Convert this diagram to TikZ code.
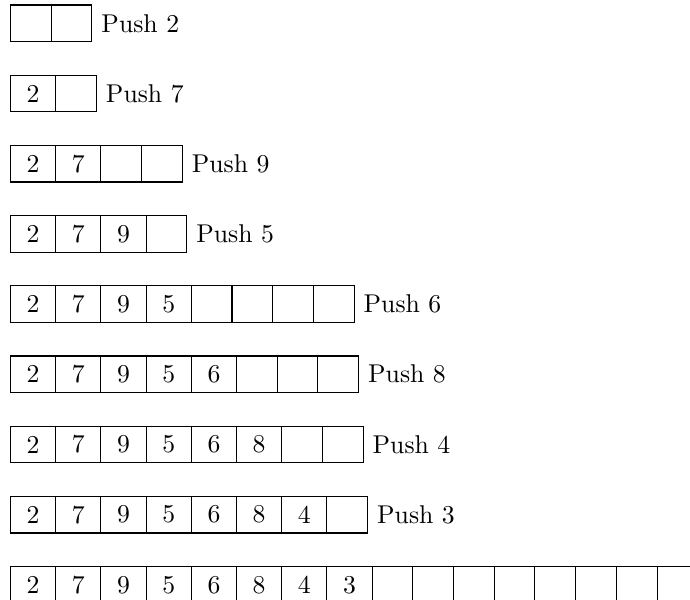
\documentclass[tikz,border=0pt]{standalone}
\tikzset{
  cellbox/.style={draw, line width=0.4pt, inner sep=0pt, minimum height=14.24pt, anchor=west},
  fullcell/.style={cellbox, minimum width=17.6pt},
  emptycell/.style={cellbox, minimum width=15.83pt},
  pushlabel/.style={anchor=west, inner sep=3.33pt}
}
\begin{document}
\begin{tikzpicture}[x=0.389pt, y=-0.389pt]
\useasboundingbox (0,0) rectangle (690,600);
\foreach \r/\n/\t/\lab in {0/0/2/2,1/1/2/7,2/2/4/9,3/3/4/5,4/4/8/6,5/5/8/8,6/6/8/4,7/7/8/3,8/8/16/0} {
  \pgfmathsetmacro{\cy}{23.3+70.2*\r}
  \foreach \k in {1,...,\t} {
    \pgfmathsetmacro{\cx}{10+45.2*min(\k-1,\n)+40.7*max(0,\k-1-\n)}
    \ifnum\k>\n
      \node[emptycell] (c\r-\k) at (\cx,\cy) {};
    \else
      \pgfmathtruncatemacro{\val}{{2,7,9,5,6,8,4,3}[\k-1]}
      \node[fullcell] (c\r-\k) at (\cx,\cy) {\val};
    \fi
  }
  \ifnum\r<8
    \node[pushlabel] (l\r) at (c\r-\t.east) {Push \lab};
  \fi
}
\end{tikzpicture}
\end{document}
